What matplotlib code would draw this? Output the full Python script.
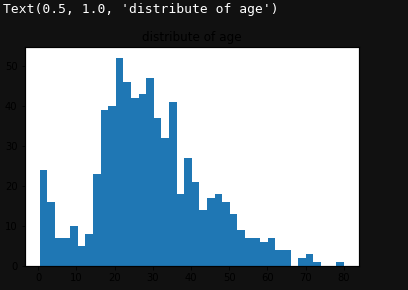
import numpy as np
import matplotlib
matplotlib.use("Agg")
import matplotlib.pyplot as plt

# age histogram (40 bins from 0.42 to 80)
age_min = 0.42
age_max = 80.0
counts = [24, 16, 7, 7, 10, 5, 8, 23, 39, 40,
          52, 46, 42, 43, 47, 37, 32, 41, 18, 27,
          21, 14, 17, 18, 16, 13, 9, 7, 7, 6,
          7, 4, 4, 0, 2, 3, 1, 0, 0, 1]
title = "distribute of age"
repr_text = "Text(0.5, 1.0, 'distribute of age')"

# the original was rendered at 72 dpi, scale point sizes for 100 dpi
s = 72 / 100

def main():
    fig = plt.figure(figsize=(4.08, 2.90), dpi=100, facecolor='#111111')
    fig.text(3 / 408, 1 - 10 / 290, repr_text, color='white', family='DejaVu Sans Mono',
             fontsize=9.4, va='center', ha='left')

    ax = fig.add_axes([24.5 / 408, (290 - 265.7) / 290, 334.5 / 408, 218.4 / 290])
    ax.set_facecolor('white')

    edges = np.linspace(age_min, age_max, len(counts) + 1)
    ax.bar(edges[:-1], counts, width=np.diff(edges), align='edge', color='#1f77b4', linewidth=0)

    ax.set_title(title, fontsize=12 * s, pad=6 * s, color='black')
    ax.set_xticks([0, 10, 20, 30, 40, 50, 60, 70, 80])
    ax.set_yticks([0, 10, 20, 30, 40, 50])
    ax.tick_params(labelsize=10 * s, length=3.5 * s, pad=3.5 * s, width=0.8 * s)
    for sp in ax.spines.values():
        sp.set_linewidth(0.8 * s * 1.5)

    fig.savefig("out.png", dpi=100, facecolor=fig.get_facecolor())

if __name__ == '__main__':
    main()
